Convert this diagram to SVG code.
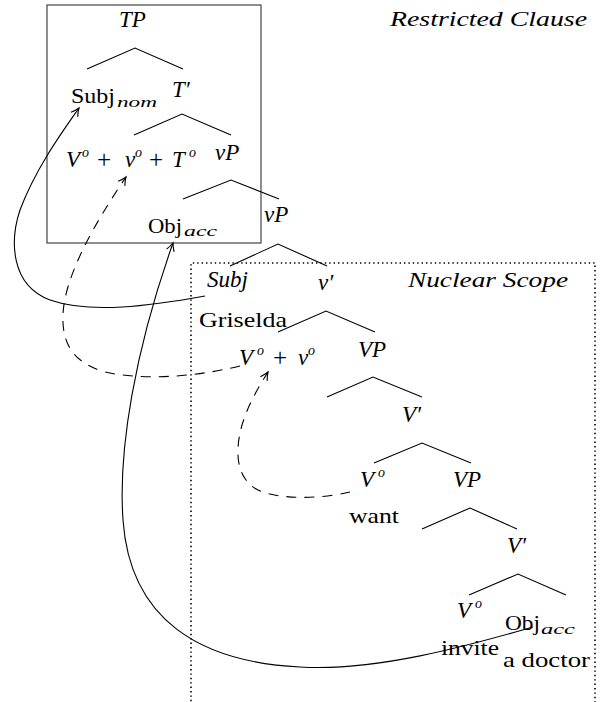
<svg xmlns="http://www.w3.org/2000/svg" width="600" height="702" viewBox="0 0 600 702">
<style>
text{font-family:'Liberation Serif','DejaVu Serif',serif;fill:#000;font-size:21px}
.i{font-style:italic}
.m{font-style:italic;font-size:23px}
.p{font-size:25px}
.s{font-size:14px}
.br{fill:none;stroke:#000;stroke-width:1.1}
.arr{fill:none;stroke:#000;stroke-width:1.1}
.dash{stroke-dasharray:10,8}
</style>
<defs>
<marker id="ah" viewBox="-10 -6 12 12" markerWidth="12" markerHeight="12" refX="0" refY="0" orient="auto" markerUnits="userSpaceOnUse">
<path d="M-8,-4 Q-3,-1 0,0 Q-3,1 -8,4" fill="none" stroke="#000" stroke-width="1.1" stroke-dasharray="none"/>
</marker>
</defs>
<rect x="0" y="0" width="600" height="702" fill="#fff"/>
<g id="frames">
<rect id="restricted-box" x="47" y="5" width="214" height="238" fill="none" stroke="#444" stroke-width="1.2"/>
<path id="nuclear-box" d="M191,710 L191,263 L595,263 L595,710" fill="none" stroke="#000" stroke-width="1.6" stroke-dasharray="1.4,3"/>
</g>
<g id="connectors">
<path class="br" d="M87,69 L135,48 L183,69"/>
<path class="br" d="M134,135 L182,114 L231,135"/>
<path class="br" d="M183,199 L231,180 L279,199"/>
<path class="br" d="M230,266 L278,244 L327,266"/>
<path class="br" d="M278,332 L326,311 L375,332"/>
<path class="br" d="M327,397 L373,377 L422,397"/>
<path class="br" d="M374,463 L422,443 L471,463"/>
<path class="br" d="M422,529 L470,508 L517,529"/>
<path class="br" d="M469,595 L518,574 L566,595"/>
<path class="arr" marker-end="url(#ah)" d="M205,296 C150,306 90,314 50,300 C10,285 10,240 20,210 C35,170 60,135 79,108"/>
<path class="arr dash" marker-end="url(#ah)" d="M240,366 C190,378 140,380 105,372 C70,362 62,340 63,315 C64,280 90,230 126,177"/>
<path class="arr dash" marker-end="url(#ah)" d="M350,492 C320,499 280,500 258,490 C235,478 235,450 242,425 C248,405 258,388 268,372"/>
<path class="arr" marker-end="url(#ah)" d="M533,627 C480,642 380,672 300,667 C200,662 130,620 123,520 C118,450 135,350 173,243"/>
</g>
<g id="TP"><text class="m" x="119" y="27">TP</text></g>
<g id="restricted-label"><text class="i" x="390" y="26" textLength="197" lengthAdjust="spacingAndGlyphs">Restricted Clause</text></g>
<g id="subj-nom"><text x="71" y="103" textLength="44" lengthAdjust="spacingAndGlyphs">Subj</text><text class="i s" x="117" y="107" textLength="40" lengthAdjust="spacingAndGlyphs">nom</text></g>
<g id="Tbar"><text class="m" x="172" y="97">T′</text></g>
<g id="V-v-T">
<text class="m" x="66" y="167">V</text>
<text class="i s" x="82" y="157">o</text>
<text class="p" x="97" y="168">+</text>
<text class="m" x="125" y="167">v</text>
<text class="i s" x="135" y="157">o</text>
<text class="p" x="149" y="168">+</text>
<text class="m" x="172" y="167">T</text>
<text class="i s" x="189" y="157">o</text>
</g>
<g id="vP1"><text class="m" x="215" y="160">vP</text></g>
<g id="vP2"><text class="m" x="264" y="222">vP</text></g>
<g id="obj-acc-1"><text x="148" y="233" textLength="34" lengthAdjust="spacingAndGlyphs">Obj</text><text class="i s" x="184" y="236" textLength="33" lengthAdjust="spacingAndGlyphs">acc</text></g>
<g id="Subj"><text class="m" x="207" y="287">Subj</text></g>
<g id="vbar"><text class="m" x="318" y="290">v′</text></g>
<g id="nuclear-label"><text class="i" x="408" y="287" textLength="160" lengthAdjust="spacingAndGlyphs">Nuclear Scope</text></g>
<g id="griselda"><text x="199" y="327" textLength="88" lengthAdjust="spacingAndGlyphs">Griselda</text></g>
<g id="V-v">
<text class="m" x="239" y="365">V</text>
<text class="i s" x="257" y="355">o</text>
<text class="p" x="273" y="366">+</text>
<text class="m" x="298" y="365">v</text>
<text class="i s" x="308" y="355">o</text>
</g>
<g id="VP1"><text class="m" x="358" y="357">VP</text></g>
<g id="Vbar1"><text class="m" x="402" y="422">V′</text></g>
<g id="Vo1"><text class="m" x="360" y="487">V</text><text class="i s" x="378" y="477">o</text></g>
<g id="VP2"><text class="m" x="453" y="487">VP</text></g>
<g id="want"><text x="349" y="523" textLength="50" lengthAdjust="spacingAndGlyphs">want</text></g>
<g id="Vbar2"><text class="m" x="507" y="553">V′</text></g>
<g id="Vo2"><text class="m" x="457" y="618">V</text><text class="i s" x="475" y="608">o</text></g>
<g id="obj-acc-2"><text x="505" y="630" textLength="35" lengthAdjust="spacingAndGlyphs">Obj</text><text class="i s" x="541" y="634" textLength="34" lengthAdjust="spacingAndGlyphs">acc</text></g>
<g id="invite"><text x="441" y="655" textLength="58" lengthAdjust="spacingAndGlyphs">invite</text></g>
<g id="a-doctor"><text x="503" y="667" textLength="87" lengthAdjust="spacingAndGlyphs">a doctor</text></g>
</svg>
